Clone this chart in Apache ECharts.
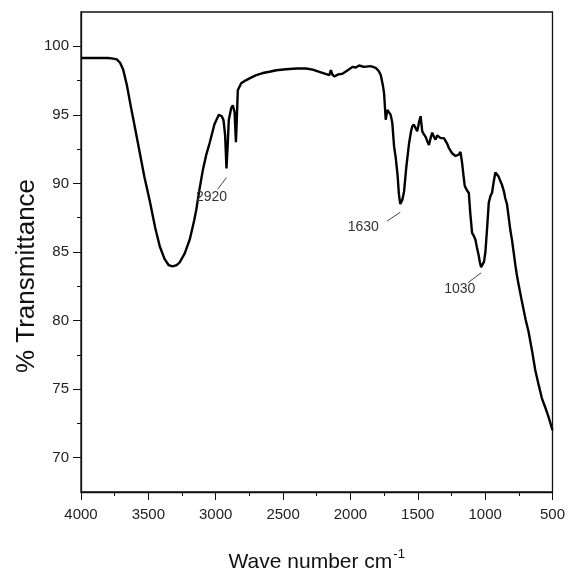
<!DOCTYPE html>
<html>
<head>
<meta charset="utf-8">
<script src="https://cdn.jsdelivr.net/npm/echarts@6/dist/echarts.min.js"></script>
<style>
  html, body { margin: 0; padding: 0; background: #fff; }
  #chart { width: 568px; height: 584px; }
</style>
</head>
<body>
<div id="chart"></div>
<script>
// FTIR spectrum: wavenumber (cm-1) vs % transmittance
const wavenumber = [
  4000, 3900, 3800, 3760, 3734, 3710, 3687, 3660, 3630, 3600, 3563, 3530, 3489, 3450, 3415, 3380,
  3350, 3320, 3290, 3267, 3230, 3193, 3160, 3144, 3120, 3095, 3070, 3045, 3010, 2977, 2955, 2942,
  2930, 2920, 2910, 2903, 2885, 2873, 2860, 2850, 2844, 2836, 2811, 2780, 2749, 2700, 2650, 2601,
  2550, 2478, 2400, 2330, 2280, 2231, 2190, 2157, 2145, 2135, 2120, 2090, 2059, 2020, 1985, 1960,
  1935, 1900, 1850, 1812, 1790, 1775, 1760, 1750, 1738, 1726, 1715, 1701, 1689, 1676, 1664, 1650,
  1640, 1630, 1615, 1602, 1585, 1565, 1550, 1541, 1530, 1516, 1504, 1490, 1479, 1467, 1455, 1442,
  1430, 1417, 1405, 1393, 1380, 1368, 1356, 1344, 1330, 1319, 1306, 1294, 1282, 1270, 1258, 1245,
  1232, 1220, 1208, 1196, 1183, 1171, 1161, 1151, 1135, 1121, 1110, 1097, 1085, 1072, 1060, 1047,
  1038, 1030, 1020, 1008, 998, 985, 973, 960, 949, 935, 924, 912, 900, 888, 875, 860,
  850, 838, 826, 813, 801, 790, 775, 764, 751, 727, 700, 678, 650, 628, 600, 579,
  555, 530, 515, 500
];
const transmittance = [
  99.15, 99.15, 99.15, 99.1, 99.05, 98.8, 98.3, 97.2, 95.6, 94.1, 92.2, 90.5, 88.7, 86.8, 85.4, 84.5,
  84.05, 83.95, 84.05, 84.25, 84.9, 85.9, 87.3, 88.1, 89.6, 91.0, 92.1, 92.95, 94.3, 95.0, 94.9, 94.6,
  93.5, 91.1, 93.0, 94.6, 95.5, 95.7, 95.2, 93.0, 94.5, 96.8, 97.3, 97.5, 97.66, 97.9, 98.05, 98.14,
  98.25, 98.33, 98.38, 98.38, 98.3, 98.14, 98.0, 97.9, 98.26, 97.95, 97.8, 97.95, 98.0, 98.25, 98.5, 98.45,
  98.6, 98.5, 98.55, 98.43, 98.2, 97.9, 97.2, 96.57, 94.64, 95.36, 95.3, 95.0, 94.4, 92.7, 91.9, 90.6,
  89.2, 88.5, 88.8, 89.4, 91.2, 92.9, 93.8, 94.15, 94.3, 94.4, 93.8, 94.5, 94.9, 93.8, 93.6, 93.4,
  93.1, 92.8, 93.3, 93.7, 93.4, 93.2, 93.5, 93.5, 93.3, 93.2, 93.3, 93.4, 92.9, 92.6, 92.4, 92.2,
  92.1, 92.0, 92.1, 92.1, 92.3, 91.5, 90.6, 89.8, 89.5, 89.3, 87.8, 86.4, 86.2, 85.9, 85.3, 84.7,
  84.2, 83.9, 84.0, 84.3, 85.0, 86.8, 88.6, 89.1, 89.3, 90.2, 90.8, 90.7, 90.5, 90.2, 89.9, 89.4,
  88.9, 88.5, 87.6, 86.6, 85.9, 85.1, 84.0, 83.3, 82.6, 81.4, 80.1, 79.2, 77.7, 76.4, 75.2, 74.35,
  73.7, 73.0, 72.5, 72.0
];

// Band annotations: label, leader line far end [wn, %T], leader line near end [wn, %T]
const bandLabels = ['2920', '1630', '1030'];
const leaderFrom = [[2986, 89.57], [1728, 87.25], [1129, 82.75]];
const leaderTo = [[2920, 90.43], [1630, 87.9], [1030, 83.48]];

const yMajorTicks = [70, 75, 80, 85, 90, 95, 100];
const yMinorTicks = [72.5, 77.5, 82.5, 87.5, 92.5, 97.5];

const sans = '"Liberation Sans", Arial, sans-serif';
const chart = echarts.init(document.getElementById('chart'), null, { renderer: 'canvas' });

const spectrum = wavenumber.map((w, i) => [w, transmittance[i]]);

chart.setOption({
  animation: false,
  backgroundColor: '#fff',
  grid: {
    left: 81, right: 14, top: 12, bottom: 92,
    show: true, borderColor: '#111', borderWidth: 1.3, backgroundColor: 'transparent'
  },
  xAxis: {
    type: 'value', min: 500, max: 4000, interval: 500, inverse: true,
    name: '{t|Wave number cm}{s|-1}',
    nameLocation: 'middle', nameGap: 56,
    nameTextStyle: {
      rich: {
        t: { fontFamily: sans, fontSize: 21, color: '#111', lineHeight: 28 },
        s: { fontFamily: sans, fontSize: 13, color: '#111', verticalAlign: 'top', lineHeight: 28, padding: [0, 0, 14, 1] }
      }
    },
    axisLine: { lineStyle: { color: '#111', width: 1.3 } },
    axisTick: { length: 8, lineStyle: { color: '#111' } },
    minorTick: { show: true, splitNumber: 2, length: 4, lineStyle: { color: '#111' } },
    axisLabel: { fontFamily: sans, fontSize: 15, color: '#222', margin: 15, formatter: v => String(v) },
    splitLine: { show: false }
  },
  yAxis: [
    {
      type: 'value', min: 67.5, max: 102.5, position: 'left',
      axisLine: { show: true, lineStyle: { color: '#111', width: 1.3 } },
      axisTick: { show: true, length: 8, customValues: yMajorTicks, lineStyle: { color: '#111' } },
      axisLabel: { customValues: yMajorTicks, fontFamily: sans, fontSize: 15, color: '#222', margin: 12 },
      splitLine: { show: false }
    },
    {
      type: 'value', min: 67.5, max: 102.5, position: 'left', offset: 0,
      axisLine: { show: false },
      axisTick: { show: true, length: 4, customValues: yMinorTicks, lineStyle: { color: '#111' } },
      axisLabel: { show: false },
      splitLine: { show: false }
    }
  ],
  graphic: [
    {
      type: 'text', x: 27, y: 276, rotation: Math.PI / 2,
      style: {
        text: '% Transmittance', fontFamily: sans, fontSize: 26,
        fill: '#111', align: 'center', verticalAlign: 'middle'
      }
    }
  ],
  series: [
    {
      type: 'line',
      data: spectrum,
      showSymbol: false,
      symbol: 'none',
      lineStyle: { color: '#000', width: 2.4 },
      markLine: {
        silent: true,
        symbol: ['none', 'none'],
        animation: false,
        lineStyle: { color: '#444', width: 1, type: 'solid' },
        label: {
          show: true, position: 'start', formatter: '{b}',
          fontFamily: sans, fontSize: 14, color: '#333', distance: 10
        },
        data: bandLabels.map((name, i) => [
          { coord: leaderFrom[i], name: name },
          { coord: leaderTo[i] }
        ])
      }
    }
  ]
});
</script>
</body>
</html>
